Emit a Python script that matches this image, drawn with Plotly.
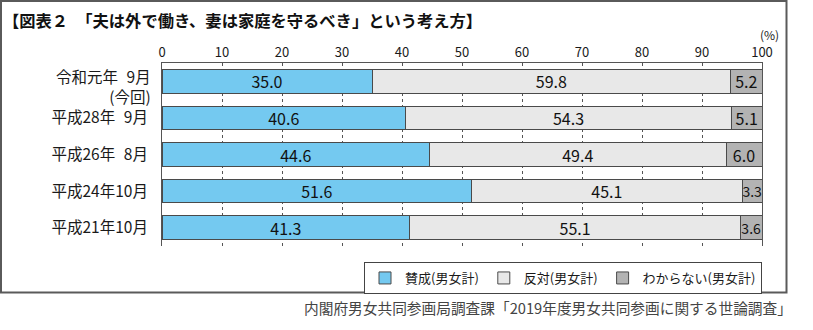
import plotly.graph_objects as go

# Survey rounds (top to bottom) and shares in percent
categories = ["令和元年\u20079月", "平成28年\u20079月", "平成26年\u20078月", "平成24年10月", "平成21年10月"]
latest_note = "(今回)"
agree = [35.0, 40.6, 44.6, 51.6, 41.3]
disagree = [59.8, 54.3, 49.4, 45.1, 55.1]
unknown = [5.2, 5.1, 6.0, 3.3, 3.6]
series_names = ["賛成(男女計)", "反対(男女計)", "わからない(男女計)"]
x_ticks = [0, 10, 20, 30, 40, 50, 60, 70, 80, 90, 100]

title_text = "【図表２　「夫は外で働き、妻は家庭を守るべき」という考え方】"
source_text = "内閣府男女共同参画局調査課「2019年度男女共同参画に関する世論調査」"

W, H = 813, 330
L, R, T, B = 162, 762, 63, 246
FONT = "Noto Sans CJK JP"


def px(x):
    return (x - L) / (R - L)


def py(y):
    return (B - y) / (B - T)


colors = ["#74C9F0", "#E8E8E8", "#B3B3B3"]
fig = go.Figure()
for name, vals, col in zip(series_names, [agree, disagree, unknown], colors):
    fig.add_trace(go.Bar(
        y=categories,
        x=vals,
        name=name,
        orientation="h",
        marker=dict(color=col, line=dict(color="#4a4a4a", width=1)),
        text=[f"{v:.1f}" for v in vals],
        textposition="inside",
        insidetextanchor="middle",
        textangle=0,
        constraintext="none",
        textfont=dict(family=FONT, color="#111111",
                      size=[16 if v >= 4 else 14 for v in vals]),
        hoverinfo="skip",
    ))

# The latest round gets a two-line label (name + note) drawn as an annotation
tick_text = [""] + categories[1:]

fig.update_layout(
    width=W, height=H,
    margin=dict(l=L, r=W - R, t=T, b=H - B, pad=0),
    barmode="stack",
    bargap=0.36,
    plot_bgcolor="white",
    paper_bgcolor="white",
    font=dict(family=FONT, color="#1a1a1a"),
    showlegend=True,
    legend=dict(
        orientation="h",
        x=1.0, xanchor="right",
        y=py(262), yanchor="top",
        bordercolor="#444444", borderwidth=1,
        font=dict(family=FONT, size=13, color="#1a1a1a"),
        traceorder="normal",
        tracegroupgap=0,
        itemwidth=30,
    ),
    xaxis=dict(
        range=[0, 100],
        side="top",
        tickvals=x_ticks,
        ticktext=[str(t) for t in x_ticks],
        tickfont=dict(family=FONT, size=13, color="#1a1a1a"),
        showgrid=True,
        gridcolor="#555555",
        gridwidth=1,
        griddash="dot",
        zeroline=False,
        showline=True,
        linecolor="#555555",
        linewidth=1,
        mirror=False,
        ticks="",
    ),
    yaxis=dict(
        autorange="reversed",
        tickmode="array",
        tickvals=categories,
        ticktext=tick_text,
        tickfont=dict(family=FONT, size=15.5, color="#1a1a1a"),
        showline=True,
        linecolor="#555555",
        linewidth=1,
        mirror=True,
        showgrid=False,
        zeroline=False,
        ticks="",
        ticklabelstandoff=10,
    ),
)

# Outer frame around the whole figure
fig.add_shape(type="rect", xref="paper", yref="paper",
              x0=px(1), x1=px(786.5), y0=py(292.5), y1=py(1),
              line=dict(color="#5a5a5a", width=2), fillcolor="rgba(0,0,0,0)",
              layer="above")

annotations = [
    dict(text="<b>" + title_text + "</b>", x=px(1), y=py(20), xanchor="left", yanchor="middle",
         font=dict(family=FONT, size=16.3, color="#111111"), showarrow=False),
    dict(text="(%)", x=px(769), y=py(34), xanchor="center", yanchor="middle",
         font=dict(family=FONT, size=12, color="#1a1a1a"), showarrow=False),
    dict(text=categories[0] + "<br>" + latest_note, x=px(153), y=py(86),
         xanchor="right", yanchor="middle", align="right",
         font=dict(family=FONT, size=15.5, color="#1a1a1a"), showarrow=False),
    dict(text=source_text, x=px(794), y=py(307), xanchor="right", yanchor="middle",
         font=dict(family=FONT, size=14.7, color="#444444"), showarrow=False),
]
for a in annotations:
    a.update(xref="paper", yref="paper")
fig.update_layout(annotations=annotations)

fig.write_html("out.html")
